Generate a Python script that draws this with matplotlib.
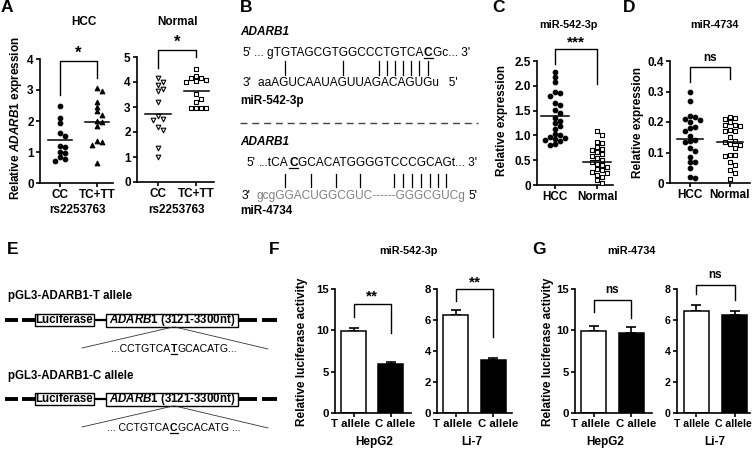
import numpy as np
import matplotlib.pyplot as plt
from matplotlib.patches import Rectangle
from matplotlib.font_manager import FontProperties
from matplotlib.ticker import FuncFormatter
from matplotlib.transforms import ScaledTranslation

plt.rcParams['font.family'] = ['Liberation Sans', 'DejaVu Sans']
plt.rcParams['font.weight'] = 'bold'
plt.rcParams['mathtext.fontset'] = 'custom'
plt.rcParams['mathtext.it'] = 'Liberation Sans:italic:bold'
plt.rcParams['mathtext.rm'] = 'Liberation Sans:bold'

W, H = 753, 453

# A: ADARB1 expression by rs2253763 genotype
geno_labels = ['CC', 'TC+TT']
hcc_cc = [2.49, 2.10, 1.93, 1.62, 1.51, 1.20, 1.15, 0.99, 0.97, 0.83, 0.78, 0.70]
hcc_tc = [3.05, 2.96, 2.62, 2.46, 2.31, 2.19, 2.00, 1.98, 1.85, 1.34, 1.32, 1.24, 0.65]
hcc_means = [1.39, 1.98]
normal_cc = [4.15, 3.99, 3.88, 3.72, 3.65, 3.20, 2.64, 2.53, 2.50, 2.19, 2.09, 1.35, 1.01]
normal_tc = [4.53, 4.26, 4.17, 4.15, 4.09, 4.03, 4.02, 3.51, 3.34, 3.20, 2.97, 2.97, 2.97, 2.97]
normal_means = [2.73, 3.65]

# C / D: miRNA expression in tissue
tissue_labels = ['HCC', 'Normal']
mir542_hcc = [2.28, 2.18, 2.08, 1.88, 1.86, 1.79, 1.66, 1.62, 1.52, 1.45, 1.36, 1.29,
              1.26, 1.19, 1.13, 1.03, 1.00, 0.96, 0.95, 0.93, 0.91, 0.88, 0.83, 0.80]
mir542_normal = [1.08, 1.00, 0.87, 0.85, 0.77, 0.72, 0.70, 0.66, 0.62, 0.58, 0.54, 0.50,
                 0.46, 0.43, 0.40, 0.37, 0.33, 0.30, 0.27, 0.24, 0.20, 0.17, 0.10, 0.05]
mir542_means = [1.40, 0.46]
mir4734_hcc = [0.30, 0.27, 0.22, 0.21, 0.205, 0.215, 0.20, 0.185, 0.18, 0.17, 0.155,
               0.14, 0.138, 0.135, 0.115, 0.105, 0.085, 0.07, 0.068, 0.05, 0.02, 0.015]
mir4734_normal = [0.216, 0.214, 0.21, 0.20, 0.19, 0.19, 0.188, 0.175, 0.17, 0.172, 0.15,
                  0.138, 0.126, 0.136, 0.127, 0.114, 0.092, 0.09, 0.092, 0.068, 0.058,
                  0.043, 0.032, 0.012]
mir4734_means = [0.143, 0.133]

# F / G: luciferase activity
allele_labels = ['T allele', 'C allele']
f_hepg2 = [9.9, 5.9]
f_hepg2_err = [0.4, 0.3]
f_li7 = [6.3, 3.4]
f_li7_err = [0.35, 0.15]
g_hepg2 = [9.9, 9.7]
g_hepg2_err = [0.6, 0.7]
g_li7 = [6.55, 6.3]
g_li7_err = [0.4, 0.25]

fig = plt.figure(figsize=(W / 100, H / 100), dpi=100)


def add_ax(x0, y_top, x1, y_bot, xlim, ylim, yticks, fs=8.5):
    ax = fig.add_axes([x0 / W, 1 - y_bot / H, (x1 - x0) / W, (y_bot - y_top) / H])
    ax.spines[['top', 'right']].set_visible(False)
    ax.spines[['left', 'bottom']].set_linewidth(1.2)
    ax.tick_params(width=1.2, length=3, labelsize=fs, pad=1.5)
    ax.set_xlim(*xlim)
    ax.set_ylim(0, ylim)
    ax.set_yticks(yticks)
    ax.set_xticks([0, 1])
    ax.patch.set_visible(False)
    return ax


def fmt_dec(v, pos):
    return '0' if v == 0 else f'{v:.1f}'


def swarm(vals, dy, dx):
    vals = np.asarray(vals, float)
    offs = np.zeros(len(vals))
    done = []
    for i in np.argsort(-vals):
        near = [offs[j] for j in done if abs(vals[j] - vals[i]) < dy]
        c = 0.0
        for k in range(15):
            c = ((k + 1) // 2) * dx * (1 if k % 2 else -1)
            if all(abs(c - o) >= dx * 0.99 for o in near):
                break
        offs[i] = c
        done.append(i)
    return offs


def dots(ax, rect, groups, styles, means):
    x0, yt, x1, yb = rect
    xl, xr = ax.get_xlim()
    ppy = (yb - yt) / ax.get_ylim()[1]
    ppx = (x1 - x0) / (xr - xl)
    for i, (vals, (mk, fc)) in enumerate(zip(groups, styles)):
        offs = swarm(vals, 4.6 / ppy, 5.2 / ppx)
        ax.scatter(i + offs, vals, marker=mk, s=11, facecolor=fc, edgecolor='k',
                   linewidths=0.8, clip_on=False, zorder=3)
        ax.plot([i - 0.33, i + 0.33], [means[i]] * 2, color='k', lw=1.1, zorder=4)


def bracket(ax, top, yl, yr, label, size=12, gap=0.0):
    ax.plot([0, 0, 1, 1], [yl, top, top, yr], color='k', lw=1, clip_on=False)
    ax.text(0.5, top + gap, label, ha='center', va='bottom', fontsize=size, clip_on=False)


def bars(ax, vals, errs, shifts=(-3, 5)):
    ax.bar([0, 1], vals, width=0.66, color=['white', 'black'], edgecolor='k', linewidth=1.1, zorder=2)
    ax.errorbar([0, 1], vals, yerr=[[0, 0], errs], fmt='none', ecolor='k',
                elinewidth=1.2, capsize=3.5, capthick=1.2, zorder=1)
    ax.set_xticklabels(allele_labels)
    for lbl, dx in zip(ax.get_xticklabels(), shifts):
        lbl.set_transform(lbl.get_transform() + ScaledTranslation(dx / 100, 0, fig.dpi_scale_trans))


# ---- A ----
rA1 = (40, 59, 113, 183)
axA1 = add_ax(*rA1, (-0.54, 1.43), 4, [0, 1, 2, 3, 4])
dots(axA1, rA1, [hcc_cc, hcc_tc], [('o', 'k'), ('^', 'k')], hcc_means)
axA1.set_xticklabels(geno_labels)
bracket(axA1, 3.94, 2.84, 3.39, '*')

rA2 = (137, 57, 214, 182)
axA2 = add_ax(*rA2, (-0.55, 1.47), 5, [0, 1, 2, 3, 4, 5])
dots(axA2, rA2, [normal_cc, normal_tc], [('v', 'white'), ('s', 'white')], normal_means)
axA2.set_xticklabels(geno_labels)
bracket(axA2, 5.3, 4.56, 5.0, '*')

# ---- C ----
rC = (537, 61, 613, 185)
axC = add_ax(*rC, (-0.43, 1.38), 2.5, [0, 0.5, 1.0, 1.5, 2.0, 2.5])
axC.yaxis.set_major_formatter(FuncFormatter(fmt_dec))
dots(axC, rC, [mir542_hcc, mir542_normal], [('o', 'k'), ('s', 'white')], mir542_means)
axC.set_xticklabels(tissue_labels)
bracket(axC, 2.74, 2.44, 2.03, '***', size=11)

# ---- D ----
rD = (670, 61, 750, 183)
axD = add_ax(*rD, (-0.5, 1.5), 0.4, [0, 0.1, 0.2, 0.3, 0.4])
axD.yaxis.set_major_formatter(FuncFormatter(fmt_dec))
dots(axD, rD, [mir4734_hcc, mir4734_normal], [('o', 'k'), ('s', 'white')], mir4734_means)
axD.set_xticklabels(tissue_labels)
bracket(axD, 0.38, 0.33, 0.34, 'ns', size=8.5, gap=0.01)

# ---- F / G ----
axF1 = add_ax(335, 289, 411, 413, (-0.5, 1.55), 15, [0, 5, 10, 15], fs=8.2)
bars(axF1, f_hepg2, f_hepg2_err)
bracket(axF1, 13.2, 11.6, 9.7, '**', size=11)
axF2 = add_ax(437, 289, 512, 413, (-0.5, 1.5), 8, [0, 2, 4, 6, 8], fs=8.2)
bars(axF2, f_li7, f_li7_err)
bracket(axF2, 8.0, 7.2, 4.9, '**', size=11)
axG1 = add_ax(575, 289, 652, 413, (-0.5, 1.55), 15, [0, 5, 10, 15], fs=8.2)
bars(axG1, g_hepg2, g_hepg2_err)
bracket(axG1, 13.7, 12.2, 11.5, 'ns', size=8.5, gap=0.4)
axG2 = add_ax(677, 289, 750, 413, (-0.5, 1.4), 8, [0, 2, 4, 6, 8], fs=7.6)
bars(axG2, g_li7, g_li7_err, shifts=(-4, -1))
bracket(axG2, 8.25, 7.7, 7.3, 'ns', size=8.5, gap=0.25)

# ---- overlay for labels and diagrams (pixel coordinates) ----
ov = fig.add_axes([0, 0, 1, 1], zorder=10)
ov.set_xlim(0, W)
ov.set_ylim(H, 0)
ov.axis('off')
renderer = fig.canvas.get_renderer()


def tw(s, size, weight='normal'):
    fp = FontProperties(family=['Liberation Sans'], size=size, weight=weight)
    return renderer.get_text_width_height_descent(s, fp, ismath=False)[0]


def draw_seq(x, y, parts, size, color='k', center=False):
    widths = [tw(t, size, wt) for t, wt, ul in parts]
    if center:
        x -= (sum(widths) + 0.6 * (len(parts) - 1)) / 2
    for (t, wt, ul), w in zip(parts, widths):
        ov.text(x, y, t, fontsize=size, fontweight=wt, color=color, ha='left', va='baseline')
        if ul:
            ov.plot([x, x + w], [y + 1.6, y + 1.6], color=color, lw=0.9)
        x += w + 0.6
    return x


def pair_bars(x, s, idx, size, y0, y1):
    for i in idx:
        cx = x + tw(s[:i + 1], size) - tw(s[i], size) / 2
        ov.plot([cx, cx], [y0, y1], color='k', lw=0.9)


def lab(x, y, s, size=8.5, ha='left', **kw):
    ov.text(x, y, s, fontsize=size, ha=ha, va='center', **kw)


# panel letters
for letter, (x, y) in {'A': (1, 8), 'B': (240, 8), 'C': (492, 8), 'D': (623, 8),
                       'E': (7, 249), 'F': (269, 249), 'G': (532, 249)}.items():
    lab(x, y, letter, size=12.5)

# titles and axis labels
lab(84, 22, 'HCC', ha='center')
lab(178, 22, 'Normal', ha='center')
lab(568, 25, 'miR-542-3p', ha='center', size=7.8)
lab(715, 25, 'miR-4734', ha='center', size=7.8)
lab(408, 251, 'miR-542-3p', ha='center', size=7.8)
lab(632, 251, 'miR-4734', ha='center', size=7.8)
lab(16, 118, r'Relative $\mathit{ADARB1}$ expression', ha='center', rotation=90, size=8.5)
lab(502, 120, 'Relative expression', ha='center', rotation=90, size=8.5)
lab(638, 122, 'Relative expression', ha='center', rotation=90, size=8.5)
lab(302, 352, 'Relative luciferase activity', ha='center', rotation=90, size=8.5)
lab(548, 352, 'Relative luciferase activity', ha='center', rotation=90, size=8.5)
lab(78, 210, 'rs2253763', ha='center')
lab(177, 210, 'rs2253763', ha='center')
lab(374, 442, 'HepG2', ha='center')
lab(472, 442, 'Li-7', ha='center')
lab(605, 442, 'HepG2', ha='center')
lab(715, 442, 'Li-7', ha='center')

# ---- B: base pairing ----
SZ = 8.6
lab(240, 32, 'ADARB1', size=8.5, fontstyle='italic')
ov.text(243, 56, "5'", fontsize=SZ, fontweight='normal', va='baseline')
s1 = "... gTGTAGCGTGGCCCTGTCACGc... 3'"
draw_seq(254, 56, [("... gTGTAGCGTGGCCCTGTCA", 'normal', False), ('C', 'bold', True),
                   ("Gc... 3'", 'normal', False)], SZ)
pair_bars(254, s1, [6, 13, 17, 18, 19, 20, 21, 22, 23], SZ, 61, 75)
ov.text(243, 86, "3'", fontsize=SZ, fontweight='normal', va='baseline')
ov.text(258, 86, "aaAGUCAAUAGUUAGACAGUGu   5'", fontsize=SZ, fontweight='normal', va='baseline')
lab(240, 101, 'miR-542-3p', size=8.5)
ov.plot([240, 478], [123, 123], color='#444444', lw=1, dashes=(5, 3.5))
lab(240, 142, 'ADARB1', size=8.5, fontstyle='italic')
ov.text(247, 166, "5'", fontsize=SZ, fontweight='normal', va='baseline')
s2 = "...tCACGCACATGGGGTCCCGCAGt... 3'"
draw_seq(259, 166, [("...tCA", 'normal', False), ('C', 'bold', True),
                    ("GCACATGGGGTCCCGCAGt... 3'", 'normal', False)], SZ)
pair_bars(259, s2, [5, 8, 11, 14, 18, 19, 20, 21, 22, 23, 24], SZ, 174, 187)
ov.text(242, 199, "3'", fontsize=SZ, fontweight='normal', va='baseline')
x_end = draw_seq(257, 199, [("gcgGGACUGGCGUC------GGGCGUCg", 'normal', False)], SZ, color='#808080')
ov.text(x_end + 2.5, 199, "5'", fontsize=SZ, fontweight='normal', va='baseline')
lab(240, 211, 'miR-4734', size=8.5)

# ---- E: constructs ----
for yl, ys, allele, seq_parts in [
        (296, 320, 'T', [('...CCTGTCA', 'normal', False), ('T', 'bold', True), ('GCACATG...', 'normal', False)]),
        (376, 399, 'C', [('... CCTGTCA', 'normal', False), ('C', 'bold', True), ('GCACATG ...', 'normal', False)])]:
    lab(8, yl, f'pGL3-ADARB1-{allele} allele', size=8.3)
    for a, b in [(5, 18), (22, 35), (94, 106), (239, 257), (262, 277)]:
        ov.plot([a, b], [ys, ys], color='k', lw=2.8 if b != 106 else 1.6, solid_capstyle='butt')
    ov.add_patch(Rectangle((35, ys - 6), 59, 12, fc='white', ec='k', lw=1))
    ov.add_patch(Rectangle((106, ys - 6.5), 132, 13, fc='white', ec='k', lw=1))
    lab(64.5, ys, 'Luciferase', ha='center', size=8.3)
    lab(172, ys, r'$\mathit{ADARB1}$ (3121-3300nt)', ha='center', size=8.3)
    ov.plot([173, 82], [ys + 7, ys + 28], color='#333333', lw=0.6)
    ov.plot([175, 268], [ys + 7, ys + 29], color='#333333', lw=0.6)
    draw_seq(174, ys + 32, seq_parts, 7.6, center=True)

fig.savefig('out.png', dpi=100)
